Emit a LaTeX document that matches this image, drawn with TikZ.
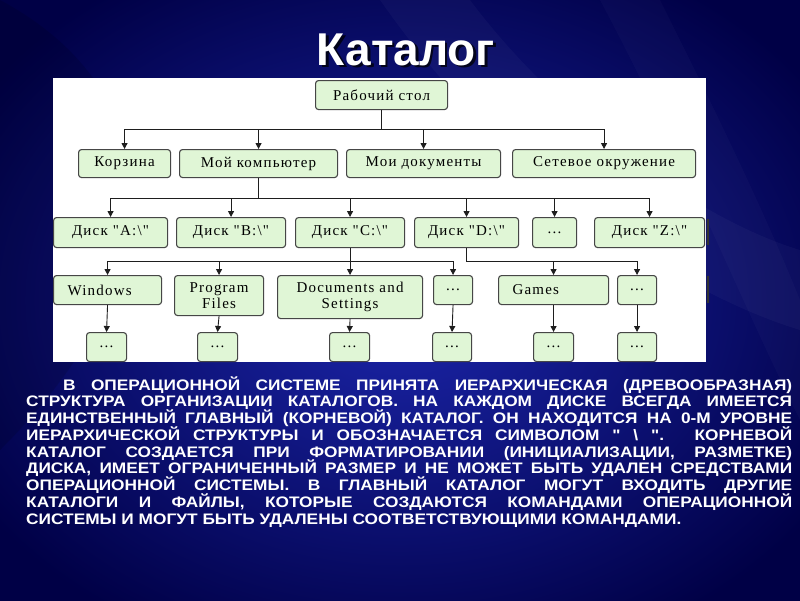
\documentclass[tikz,border=0pt]{standalone}
\usepackage{fontspec}
\usepackage{graphicx}
\setmainfont{Liberation Serif}
\newfontfamily\sansfam{Liberation Sans}
\newfontfamily\diafont{Liberation Serif}[LetterSpace=8]
\usetikzlibrary{arrows.meta}
\definecolor{bgin}{RGB}{28,38,172}
\definecolor{bgout}{RGB}{0,0,70}
\definecolor{boxfill}{RGB}{224,246,214}
\definecolor{boxline}{RGB}{70,70,70}
\definecolor{connc}{RGB}{30,30,30}
\tikzset{
  box/.style={draw=boxline, fill=boxfill, rounded corners=3pt, line width=1.1pt,
    inner sep=0pt, anchor=north west, align=center,
    font=\diafont\fontsize{15}{15.5}\selectfont},
  conn/.style={draw=connc, line width=0.9pt},
  arr/.style={conn, -{Triangle[length=6pt,width=6pt]}},
  bodyline/.style={anchor=base west, inner sep=0pt, text=white,
    font=\sansfam\bfseries\fontsize{17.3}{16.75}\selectfont},
}
\newcommand{\jl}[2]{\scalebox{1}[0.88]{\makebox[#1][s]{#2}}}
\begin{document}
\begin{tikzpicture}[x=1pt,y=-1pt]
\useasboundingbox (0,0) rectangle (800,600);
% background
\shade[inner color=bgin, outer color=bgout] (-100,-80) rectangle (900,680);
\fill[white, opacity=0.03] (380,0) .. controls (520,200) and (700,300) .. (800,330) -- (800,250) .. controls (700,220) and (560,120) .. (470,0) -- cycle;
\fill[white, opacity=0.025] (600,0) .. controls (680,150) and (740,300) .. (800,420) -- (800,300) .. controls (760,200) and (700,80) .. (660,0) -- cycle;
\fill[black, opacity=0.12] (0,0) .. controls (150,80) and (200,250) .. (0,450) -- cycle;
% title
\node[anchor=base, inner sep=0pt, text=black, opacity=0.75, font=\sansfam\bfseries\fontsize{46}{50}\selectfont] (titleshadow) at (408.5,67.5) {Каталог};
\node[anchor=base, inner sep=0pt, text=white, font=\sansfam\bfseries\fontsize{46}{50}\selectfont] (title) at (406,65) {Каталог};
% panel
\fill[white] (53,78) rectangle (706,362);
\draw[line width=2pt, black!80] (708,219) -- (708,245);
\draw[line width=2pt, black!80] (708,276) -- (708,303);
% row 1
\node[box, minimum width=132pt, minimum height=29pt] (root) at (315,80) {Рабочий стол};
% row 2
\node[box, minimum width=92pt, minimum height=28pt] (korz) at (78,149) {Корзина};
\node[box, minimum width=158pt, minimum height=28pt] (myc) at (179,149) {Мой компьютер};
\node[box, minimum width=154pt, minimum height=28pt] (mydoc) at (346,149) {Мои документы};
\node[box, minimum width=183pt, minimum height=28pt] (net) at (512,149) {Сетевое окружение};
% row 3
\node[box, minimum width=114pt, minimum height=30pt] (dA) at (53,217) {Диск "A:\textbackslash"};
\node[box, minimum width=109pt, minimum height=30pt] (dB) at (176,217) {Диск "B:\textbackslash"};
\node[box, minimum width=109pt, minimum height=30pt] (dC) at (295,217) {Диск "C:\textbackslash"};
\node[box, minimum width=104pt, minimum height=30pt] (dD) at (414,217) {Диск "D:\textbackslash"};
\node[box, minimum width=44pt, minimum height=30pt] (dd) at (532,217) {...};
\node[box, minimum width=110pt, minimum height=30pt] (dZ) at (594,217) {Диск "Z:\textbackslash"};
% row 4
\node[box, minimum width=108pt, minimum height=29pt] (win) at (53,275) {\makebox[80pt][l]{Windows}};
\node[box, minimum width=89pt, minimum height=40pt] (pf) at (174,275) {Program\\Files};
\node[box, minimum width=145pt, minimum height=43pt] (das) at (277,275) {Documents and\\Settings};
\node[box, minimum width=39pt, minimum height=29pt] (d1) at (433,275) {...};
\node[box, minimum width=110pt, minimum height=29pt] (games) at (498,275) {\makebox[82pt][l]{Games}};
\node[box, minimum width=39pt, minimum height=29pt] (d2) at (617,275) {...};
% row 5
\node[box, minimum width=40pt, minimum height=29pt] (e1) at (86,332) {...};
\node[box, minimum width=40pt, minimum height=29pt] (e2) at (197,332) {...};
\node[box, minimum width=40pt, minimum height=29pt] (e3) at (329,332) {...};
\node[box, minimum width=39pt, minimum height=29pt] (e4) at (432,332) {...};
\node[box, minimum width=40pt, minimum height=29pt] (e5) at (533,332) {...};
\node[box, minimum width=39pt, minimum height=29pt] (e6) at (617,332) {...};
% connectors
\coordinate (b1) at (380,129);
\coordinate (b2) at (258,198);
\coordinate (b3) at (350,261);
\draw[conn] (root.south) -- (root.south |- b1);
\draw[conn] (korz.north |- b1) -- (net.north |- b1);
\foreach \n in {korz,myc,mydoc,net} \draw[arr] (\n.north |- b1) -- (\n.north);
\draw[conn] (myc.south) -- (myc.south |- b2);
\draw[conn] (dA.north |- b2) -- (dZ.north |- b2);
\foreach \n in {dA,dB,dC,dD,dd,dZ} \draw[arr] (\n.north |- b2) -- (\n.north);
\draw[conn] (dC.south) -- (dC.south |- b3);
\draw[conn] (win.north |- b3) -- (d1.north |- b3);
\foreach \n in {win,pf,das,d1} \draw[arr] (\n.north |- b3) -- (\n.north);
\draw[conn] (dD.south) -- (dD.south |- b3) -- (d2.north |- b3);
\foreach \n in {games,d2} \draw[arr] (\n.north |- b3) -- (\n.north);
\draw[arr] (win.south) -- (e1.north);
\draw[arr] (pf.south) -- (e2.north);
\draw[arr] (das.south) -- (e3.north);
\draw[arr] (d1.south) -- (e4.north);
\draw[arr] (games.south) -- (e5.north);
\draw[arr] (d2.south) -- (e6.north);
% body text
\node[bodyline] (l1) at (63,390) {\jl{729pt}{В ОПЕРАЦИОННОЙ СИСТЕМЕ ПРИНЯТА ИЕРАРХИЧЕСКАЯ (ДРЕВООБРАЗНАЯ)}};
\node[bodyline] (l2) at (26,406.75) {\jl{766pt}{СТРУКТУРА ОРГАНИЗАЦИИ КАТАЛОГОВ. НА КАЖДОМ ДИСКЕ ВСЕГДА ИМЕЕТСЯ}};
\node[bodyline] (l3) at (26,423.5) {\jl{766pt}{ЕДИНСТВЕННЫЙ ГЛАВНЫЙ (КОРНЕВОЙ) КАТАЛОГ. ОН НАХОДИТСЯ НА 0-М УРОВНЕ}};
\node[bodyline] (l4) at (26,440.25) {\jl{766pt}{ИЕРАРХИЧЕСКОЙ СТРУКТУРЫ И ОБОЗНАЧАЕТСЯ СИМВОЛОМ " \textbackslash{} ". КОРНЕВОЙ}};
\node[bodyline] (l5) at (26,457) {\jl{766pt}{КАТАЛОГ СОЗДАЕТСЯ ПРИ ФОРМАТИРОВАНИИ (ИНИЦИАЛИЗАЦИИ, РАЗМЕТКЕ)}};
\node[bodyline] (l6) at (26,473.75) {\jl{766pt}{ДИСКА, ИМЕЕТ ОГРАНИЧЕННЫЙ РАЗМЕР И НЕ МОЖЕТ БЫТЬ УДАЛЕН СРЕДСТВАМИ}};
\node[bodyline] (l7) at (26,490.5) {\jl{766pt}{ОПЕРАЦИОННОЙ СИСТЕМЫ. В ГЛАВНЫЙ КАТАЛОГ МОГУТ ВХОДИТЬ ДРУГИЕ}};
\node[bodyline] (l8) at (26,507.25) {\jl{766pt}{КАТАЛОГИ И ФАЙЛЫ, КОТОРЫЕ СОЗДАЮТСЯ КОМАНДАМИ ОПЕРАЦИОННОЙ}};
\node[bodyline] (l9) at (26,524) {\scalebox{1}[0.88]{СИСТЕМЫ И МОГУТ БЫТЬ УДАЛЕНЫ СООТВЕТСТВУЮЩИМИ КОМАНДАМИ.}};
\end{tikzpicture}
\end{document}
